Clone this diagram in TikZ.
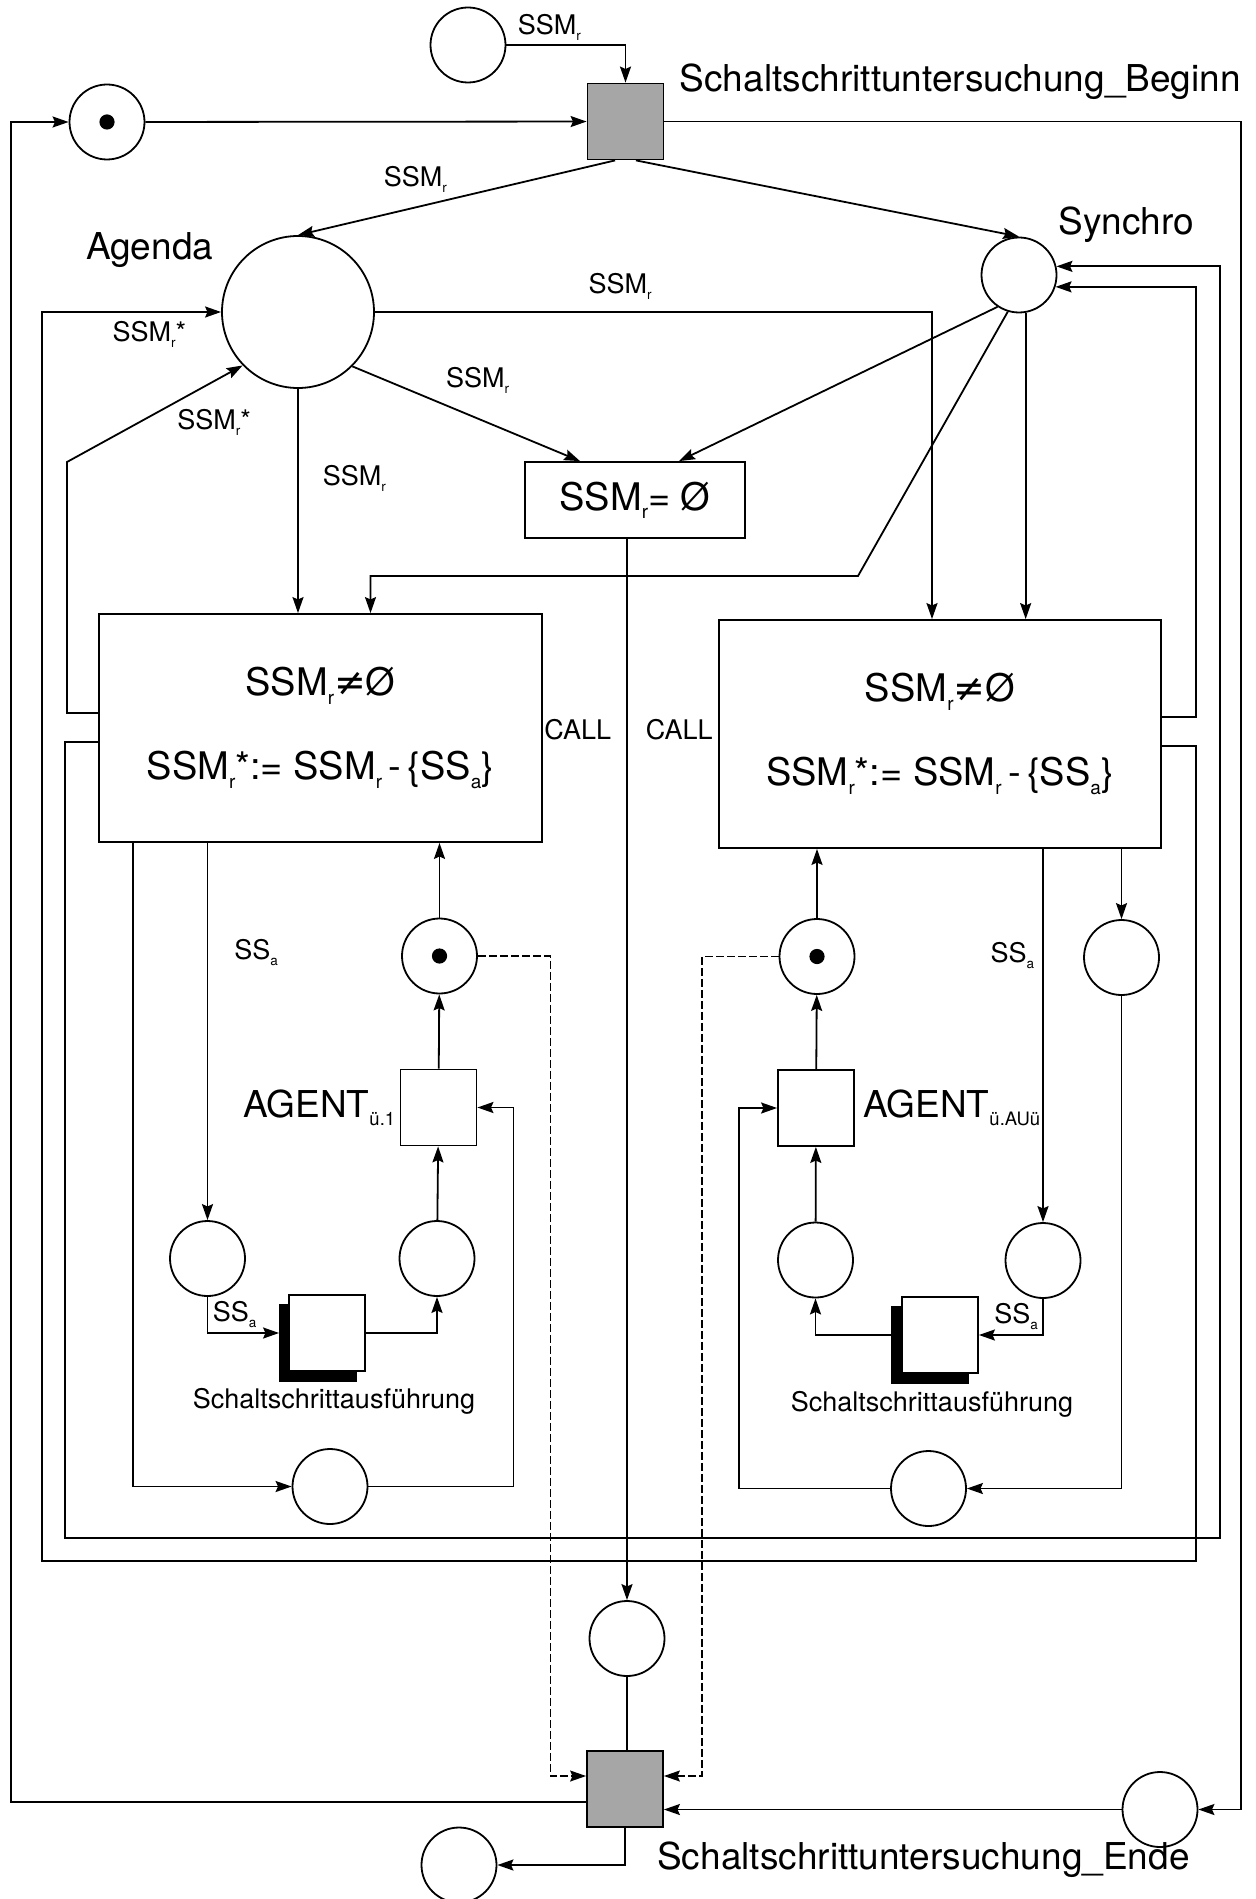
\documentclass[tikz,border=0pt]{standalone}
\usepackage{fontspec}
\setmainfont{TeX Gyre Heros}
\newfontfamily\symf{DejaVu Sans}
\usetikzlibrary{arrows.meta,calc,positioning}
\newcommand{\sbs}[1]{\raisebox{-0.22em}{\scalebox{0.5}{#1}}}
\newcommand{\ssm}{SSM\sbs{r}}
\newcommand{\ssmst}{SSM\sbs{r}*}
\newcommand{\ssa}{SS\sbs{a}}

\begin{document}
\begin{tikzpicture}[x=0.5pt,y=-0.5pt,
  net/.style={line width=0.9pt},
  arc/.style={net,-{Stealth[length=8pt,width=5.5pt,inset=1.2pt]}},
  dasharc/.style={arc,line width=0.6pt,dash pattern=on 4pt off 1.5pt},
  place/.style={circle,draw,net,minimum size=37.5pt,inner sep=0pt},
  marked/.style={place,path picture={\fill (path picture bounding box.center) circle (3.8pt);}},
  trans/.style={rectangle,draw,net,minimum size=38pt,inner sep=0pt},
  shaded/.style={trans,fill=black!35},
  shadowbox/.style={trans,fill=black},
  guard/.style={rectangle,draw,net,inner sep=0pt,align=center,font=\fontsize{19}{23}\selectfont},
  lbl/.style={inner sep=2pt,font=\fontsize{13.5}{16}\selectfont},
  biglbl/.style={inner sep=0pt,font=\fontsize{18.5}{22}\selectfont}]
\useasboundingbox (0,0) rectangle (1256,1899);

% upper part
\node[place] (ptop) at (468,45) {};
\node[marked] (pmark) at (107,122) {};
\node[shaded] (tbeg) at (625.5,121.5) {};
\node[place,minimum size=76pt] (agenda) at (298,312) {};
\node[place] (synchro) at (1019,275) {};
\node[guard,minimum width=110pt,minimum height=38pt] (tleer) at (635,500) {\ssm= Ø};
\node[guard,minimum width=221.5pt,minimum height=114pt] (lbox) at (320.5,728)
  {\ssm{\symf ≠}Ø\\[19pt]\ssmst:= \ssm\,-\,\{\ssa\}};
\node[guard,minimum width=221pt,minimum height=114pt] (rbox) at (940,734)
  {\ssm{\symf ≠}Ø\\[19pt]\ssmst:= \ssm\,-\,\{\ssa\}};

% left loop
\node[marked] (lmark) at (439.5,956) {};
\node[trans] (lagent) at (438.5,1107.5) {};
\node[place] (lpa) at (437,1258.5) {};
\node[place] (lss) at (207.5,1258.5) {};
\node[shadowbox] (lexecs) at (318,1343) {};
\node[trans,fill=white] (lexec) at (327,1333) {};
\node[place] (lbot) at (330,1486.5) {};

% right loop
\node[marked] (rmark) at (817,956.5) {};
\node[trans] (ragent) at (816,1108) {};
\node[place] (rpa) at (815.5,1260) {};
\node[place] (rss) at (1043,1260.5) {};
\node[place] (rtop) at (1121.5,957.5) {};
\node[shadowbox] (rexecs) at (930,1345) {};
\node[trans,fill=white] (rexec) at (940,1335) {};
\node[place] (rbot) at (928.5,1488.5) {};

% lower part
\node[place] (pcall) at (627,1638.5) {};
\node[shaded] (tend) at (625,1789) {};
\node[place] (pende) at (1160,1809.5) {};
\node[place] (pout) at (459,1865) {};

% names
\node[biglbl,anchor=base west] (begl) at ($(tbeg.north east)+(15,9)$) {Schaltschrittuntersuchung\_Beginn};
\node[biglbl,anchor=base east] (agl) at ($(agenda.north west)+(-30,2)$) {Agenda};
\node[biglbl,anchor=base west] (syl) at ($(synchro.north east)+(12,-13)$) {Synchro};
\node[biglbl,anchor=base west] (endl) at ($(tend.east)+(-7,80)$) {Schaltschrittuntersuchung\_Ende};
\node[biglbl,anchor=east] (lagl) at ($(lagent.west)+(-4,0)$) {AGENT\sbs{ü.1}};
\node[biglbl,anchor=west] (ragl) at ($(ragent.east)+(8,0)$) {AGENT\sbs{ü.AUü}};
\node[lbl,anchor=north] (lexl) at ($(lexec.south)+(7,12)$) {Schaltschrittausführung};
\node[lbl,anchor=north] (rexl) at ($(rexec.south)+(-8,13)$) {Schaltschrittausführung};

\coordinate (oR) at (1241,0);
\coordinate (oL) at (11,0);
\coordinate (tendL) at ($(tend.west)+(0,13)$);
\coordinate (rIn) at ($(rbox.north)+(-8,0)$);
\coordinate (sk) at (858,576);
\coordinate (lbUL) at ($(lbox.west)+(0,-15)$);
\coordinate (kL) at (67,462);
\coordinate (lbLL) at ($(lbox.west)+(0,14)$);
\coordinate (cL1) at (65,1538);
\coordinate (cR2) at (1220,1538);
\coordinate (rbUR) at ($(rbox.east)+(0,-17)$);
\coordinate (xR1) at (1196,0);
\coordinate (rbLR) at ($(rbox.east)+(0,12)$);
\coordinate (cB2) at (1196,1561);
\coordinate (cL2) at (42,1561);
\coordinate (xl3) at (133,0);

\draw[arc] (ptop.east) -| node[lbl,pos=0.18,above] (lab1) {\ssm} (tbeg.north);
\draw[arc] (pmark) -- (tbeg);
\draw[arc] (tbeg.-105) -- node[lbl,pos=0.63,above=5pt] (lab2) {\ssm} (agenda.north);
\draw[arc] (tbeg.-75) -- (synchro.north);
\draw[arc] (tbeg.east) -- (tbeg.east -| oR) |- (pende.east);
\draw[arc] (tendL) -- (tendL -| oL) |- (pmark.west);
\draw[arc] (tend.south) |- (pout.east);
\draw[arc] (pende.west) -- (pende.west -| tend.east);

\draw[arc] (agenda.-45) -- node[lbl,pos=0.55,above=10pt] (lab3) {\ssm} ($(tleer.north)+(-55,0)$);
\draw[arc] (synchro.-124) -- ($(tleer.north)+(44,0)$);
\draw[arc] (agenda.south) -- node[lbl,pos=0.4,right=10pt] (lab4) {\ssm} (agenda.south |- lbox.north);
\draw[arc] (agenda.east) -| node[lbl,pos=0.22,above=4pt] (lab5) {\ssm} (rIn);
\draw[arc] (synchro.-80) -- (synchro.-80 |- rbox.north);
\draw[arc] (synchro.-107) -- (sk) -| ($(lbox.north)+(50,0)$);

\draw[arc] (lbUL) -| (kL) -- node[lbl,pos=0.6,below right] (lab6) {\ssmst} (agenda.-136);
\draw[arc] (lbLL) -| (cL1) -- (cR2) |- (synchro.13);
\draw[arc] (rbUR) -- (rbUR -| xR1) |- (synchro.-18);
\draw[arc] (rbLR) -| (cB2) -- (cL2) |- node[lbl,pos=0.8,below=2pt] (lab7) {\ssmst} (agenda.west);

\draw[arc] (lss.north |- lbox.south) -- node[lbl,pos=0.29,right=11pt] (lab8) {\ssa} (lss.north);
\draw[arc] (lss.south) |- node[lbl,pos=0.69,above] (lab9) {\ssa} ($(lexec.west)+(-9,0)$);
\draw[arc] (lexec.east) -| (lpa.south);
\draw[arc] (lpa) -- (lagent);
\draw[arc] (lagent) -- (lmark);
\draw[arc] (lmark) -- (lmark |- lbox.south);
\draw[arc] (lbox.south -| xl3) |- (lbot.west);
\draw[arc] (lbot.east) -| ($(lagent.east)+(36,0)$) -- (lagent.east);
\draw[dasharc] (lmark.east) -| ($(tend.west)+(-36,-13)$) -- ($(tend.west)+(0,-13)$);

\draw[arc] (rss.north |- rbox.south) -- node[lbl,pos=0.285,left=2pt] (lab10) {\ssa} (rss.north);
\draw[arc] (rss.south) |- node[lbl,pos=0.71,above] (lab11) {\ssa} (rexec.east);
\draw[arc] ($(rexec.west)+(-10,0)$) -| (rpa.south);
\draw[arc] (rpa) -- (ragent);
\draw[arc] (ragent) -- (rmark);
\draw[arc] (rmark) -- (rmark |- rbox.south);
\draw[arc] (rtop.north |- rbox.south) -- (rtop.north);
\draw[arc] (rtop.south) |- (rbot.east);
\draw[arc] (rbot.west) -| ($(ragent.west)+(-38,0)$) -- (ragent.west);
\draw[dasharc] (rmark.west) -| ($(tend.east)+(38,-13)$) -- ($(tend.east)+(0,-13)$);

\draw[arc] (tleer.south -| pcall) -- node[lbl,pos=0.18,left=5.5pt] (lab12) {CALL}
  node[lbl,pos=0.18,right=7pt] (lab13) {CALL} (pcall.north);
\draw[net] (pcall) -- (pcall |- tend.north);
\end{tikzpicture}
\end{document}
